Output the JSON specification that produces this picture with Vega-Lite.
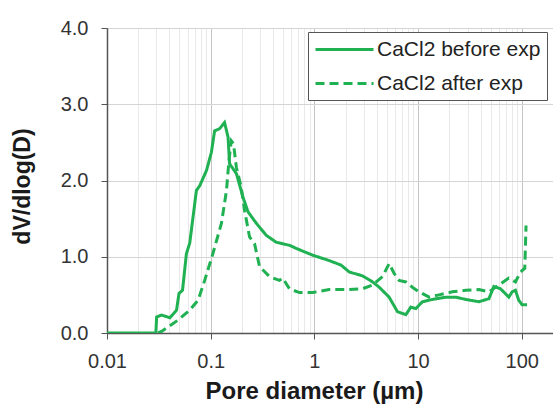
{
  "$schema": "https://vega.github.io/schema/vega-lite/v6.json",
  "width": 446,
  "height": 305,
  "autosize": {"type": "none"},
  "padding": {"left": 107, "top": 28, "right": 0, "bottom": 72},
  "background": "white",
  "config": {
    "font": "Liberation Sans",
    "view": {"stroke": "#8c8c8c", "strokeWidth": 1}
  },
  "data": {
    "values": [
      {"d": 0.01, "v": 0, "s": "CaCl2 before exp"},
      {"d": 0.0296, "v": 0, "s": "CaCl2 before exp"},
      {"d": 0.0301, "v": 0.21, "s": "CaCl2 before exp"},
      {"d": 0.0336, "v": 0.235, "s": "CaCl2 before exp"},
      {"d": 0.0404, "v": 0.2, "s": "CaCl2 before exp"},
      {"d": 0.0468, "v": 0.3, "s": "CaCl2 before exp"},
      {"d": 0.0495, "v": 0.52, "s": "CaCl2 before exp"},
      {"d": 0.0535, "v": 0.56, "s": "CaCl2 before exp"},
      {"d": 0.0583, "v": 1.04, "s": "CaCl2 before exp"},
      {"d": 0.0628, "v": 1.18, "s": "CaCl2 before exp"},
      {"d": 0.0728, "v": 1.87, "s": "CaCl2 before exp"},
      {"d": 0.0783, "v": 1.93, "s": "CaCl2 before exp"},
      {"d": 0.091, "v": 2.13, "s": "CaCl2 before exp"},
      {"d": 0.1016, "v": 2.37, "s": "CaCl2 before exp"},
      {"d": 0.109, "v": 2.65, "s": "CaCl2 before exp"},
      {"d": 0.122, "v": 2.68, "s": "CaCl2 before exp"},
      {"d": 0.136, "v": 2.76, "s": "CaCl2 before exp"},
      {"d": 0.147, "v": 2.57, "s": "CaCl2 before exp"},
      {"d": 0.152, "v": 2.22, "s": "CaCl2 before exp"},
      {"d": 0.177, "v": 2.09, "s": "CaCl2 before exp"},
      {"d": 0.205, "v": 1.78, "s": "CaCl2 before exp"},
      {"d": 0.229, "v": 1.59, "s": "CaCl2 before exp"},
      {"d": 0.275, "v": 1.44, "s": "CaCl2 before exp"},
      {"d": 0.344, "v": 1.28, "s": "CaCl2 before exp"},
      {"d": 0.429, "v": 1.19, "s": "CaCl2 before exp"},
      {"d": 0.575, "v": 1.15, "s": "CaCl2 before exp"},
      {"d": 0.667, "v": 1.11, "s": "CaCl2 before exp"},
      {"d": 0.964, "v": 1.02, "s": "CaCl2 before exp"},
      {"d": 1.39, "v": 0.95, "s": "CaCl2 before exp"},
      {"d": 1.81, "v": 0.89, "s": "CaCl2 before exp"},
      {"d": 2.17, "v": 0.8, "s": "CaCl2 before exp"},
      {"d": 2.91, "v": 0.75, "s": "CaCl2 before exp"},
      {"d": 3.64, "v": 0.67, "s": "CaCl2 before exp"},
      {"d": 4.22, "v": 0.6, "s": "CaCl2 before exp"},
      {"d": 5.26, "v": 0.47, "s": "CaCl2 before exp"},
      {"d": 6.32, "v": 0.28, "s": "CaCl2 before exp"},
      {"d": 7.62, "v": 0.24, "s": "CaCl2 before exp"},
      {"d": 8.51, "v": 0.34, "s": "CaCl2 before exp"},
      {"d": 9.51, "v": 0.32, "s": "CaCl2 before exp"},
      {"d": 11.0, "v": 0.41, "s": "CaCl2 before exp"},
      {"d": 13.7, "v": 0.44, "s": "CaCl2 before exp"},
      {"d": 18.5, "v": 0.47, "s": "CaCl2 before exp"},
      {"d": 23.1, "v": 0.47, "s": "CaCl2 before exp"},
      {"d": 28.8, "v": 0.44, "s": "CaCl2 before exp"},
      {"d": 38.6, "v": 0.41, "s": "CaCl2 before exp"},
      {"d": 48.2, "v": 0.45, "s": "CaCl2 before exp"},
      {"d": 53.8, "v": 0.61, "s": "CaCl2 before exp"},
      {"d": 62.4, "v": 0.58, "s": "CaCl2 before exp"},
      {"d": 75.0, "v": 0.47, "s": "CaCl2 before exp"},
      {"d": 80.7, "v": 0.54, "s": "CaCl2 before exp"},
      {"d": 86.9, "v": 0.56, "s": "CaCl2 before exp"},
      {"d": 93.5, "v": 0.43, "s": "CaCl2 before exp"},
      {"d": 100.7, "v": 0.37, "s": "CaCl2 before exp"},
      {"d": 112.5, "v": 0.37, "s": "CaCl2 before exp"},

      {"d": 0.031, "v": 0, "s": "CaCl2 after exp"},
      {"d": 0.0336, "v": 0.02, "s": "CaCl2 after exp"},
      {"d": 0.0389, "v": 0.08, "s": "CaCl2 after exp"},
      {"d": 0.0485, "v": 0.17, "s": "CaCl2 after exp"},
      {"d": 0.0628, "v": 0.3, "s": "CaCl2 after exp"},
      {"d": 0.0755, "v": 0.43, "s": "CaCl2 after exp"},
      {"d": 0.0875, "v": 0.69, "s": "CaCl2 after exp"},
      {"d": 0.105, "v": 1.04, "s": "CaCl2 after exp"},
      {"d": 0.127, "v": 1.44, "s": "CaCl2 after exp"},
      {"d": 0.142, "v": 1.87, "s": "CaCl2 after exp"},
      {"d": 0.15, "v": 2.26, "s": "CaCl2 after exp"},
      {"d": 0.158, "v": 2.52, "s": "CaCl2 after exp"},
      {"d": 0.166, "v": 2.48, "s": "CaCl2 after exp"},
      {"d": 0.177, "v": 2.17, "s": "CaCl2 after exp"},
      {"d": 0.197, "v": 1.91, "s": "CaCl2 after exp"},
      {"d": 0.212, "v": 1.61, "s": "CaCl2 after exp"},
      {"d": 0.237, "v": 1.26, "s": "CaCl2 after exp"},
      {"d": 0.265, "v": 1.17, "s": "CaCl2 after exp"},
      {"d": 0.296, "v": 0.87, "s": "CaCl2 after exp"},
      {"d": 0.369, "v": 0.74, "s": "CaCl2 after exp"},
      {"d": 0.46, "v": 0.69, "s": "CaCl2 after exp"},
      {"d": 0.495, "v": 0.72, "s": "CaCl2 after exp"},
      {"d": 0.575, "v": 0.58, "s": "CaCl2 after exp"},
      {"d": 0.718, "v": 0.53, "s": "CaCl2 after exp"},
      {"d": 0.964, "v": 0.53, "s": "CaCl2 after exp"},
      {"d": 1.39, "v": 0.57, "s": "CaCl2 after exp"},
      {"d": 2.02, "v": 0.57, "s": "CaCl2 after exp"},
      {"d": 2.91, "v": 0.58, "s": "CaCl2 after exp"},
      {"d": 3.64, "v": 0.63, "s": "CaCl2 after exp"},
      {"d": 4.54, "v": 0.74, "s": "CaCl2 after exp"},
      {"d": 5.26, "v": 0.91, "s": "CaCl2 after exp"},
      {"d": 5.88, "v": 0.78, "s": "CaCl2 after exp"},
      {"d": 6.56, "v": 0.69, "s": "CaCl2 after exp"},
      {"d": 7.62, "v": 0.67, "s": "CaCl2 after exp"},
      {"d": 8.81, "v": 0.6, "s": "CaCl2 after exp"},
      {"d": 10.2, "v": 0.54, "s": "CaCl2 after exp"},
      {"d": 12.8, "v": 0.47, "s": "CaCl2 after exp"},
      {"d": 15.9, "v": 0.5, "s": "CaCl2 after exp"},
      {"d": 21.4, "v": 0.54, "s": "CaCl2 after exp"},
      {"d": 28.8, "v": 0.56, "s": "CaCl2 after exp"},
      {"d": 38.6, "v": 0.57, "s": "CaCl2 after exp"},
      {"d": 48.2, "v": 0.54, "s": "CaCl2 after exp"},
      {"d": 60.1, "v": 0.63, "s": "CaCl2 after exp"},
      {"d": 75.0, "v": 0.72, "s": "CaCl2 after exp"},
      {"d": 86.9, "v": 0.67, "s": "CaCl2 after exp"},
      {"d": 97.2, "v": 0.8, "s": "CaCl2 after exp"},
      {"d": 106.9, "v": 0.85, "s": "CaCl2 after exp"},
      {"d": 108.6, "v": 1.17, "s": "CaCl2 after exp"},
      {"d": 109.9, "v": 1.41, "s": "CaCl2 after exp"}
    ]
  },
  "mark": {"type": "line", "color": "#1fb152", "strokeWidth": 3, "clip": true},
  "encoding": {
    "x": {
      "field": "d",
      "type": "quantitative",
      "scale": {"type": "log", "domain": [0.01, 200], "nice": false},
      "axis": {
        "values": [0.01, 0.02, 0.03, 0.04, 0.05, 0.06, 0.07, 0.08, 0.09, 0.1, 0.2, 0.3, 0.4, 0.5, 0.6, 0.7, 0.8, 0.9, 1, 2, 3, 4, 5, 6, 7, 8, 9, 10, 20, 30, 40, 50, 60, 70, 80, 90, 100, 200],
        "format": "~g",
        "labelExpr": "(datum.value==0.01||datum.value==0.1||datum.value==1||datum.value==10||datum.value==100) ? datum.label : ''",
        "labelOverlap": false,
        "labelFontSize": 20,
        "labelColor": "#333333",
        "labelPadding": 12,
        "labelFlush": false,
        "grid": true,
        "gridColor": {"condition": {"test": "datum.value==0.1||datum.value==1||datum.value==10||datum.value==100", "value": "#c4c4c4"}, "value": "#e9e9e9"},
        "gridWidth": 1,
        "tickOpacity": {"condition": {"test": "datum.value==0.01||datum.value==0.1||datum.value==1||datum.value==10||datum.value==100", "value": 1}, "value": 0},
        "tickColor": "#555555",
        "tickSize": 6,
        "domainColor": "#555555",
        "domainWidth": 1.5,
        "title": "Pore diameter (µm)",
        "titleFontSize": 24,
        "titleFontWeight": "bold",
        "titleColor": "#1a1a1a",
        "titleX": 207,
        "titleY": 46
      }
    },
    "y": {
      "field": "v",
      "type": "quantitative",
      "scale": {"domain": [0, 4], "nice": false},
      "axis": {
        "values": [0, 1, 2, 3, 4],
        "format": ".1f",
        "labelFontSize": 20,
        "labelColor": "#333333",
        "labelPadding": 13,
        "grid": true,
        "gridColor": "#d4d4d4",
        "tickColor": "#555555",
        "tickSize": 6,
        "domainColor": "#555555",
        "domainWidth": 1.5,
        "title": "dV/dlog(D)",
        "titleFontSize": 23,
        "titleFontWeight": "bold",
        "titleColor": "#1a1a1a",
        "titleX": -73,
        "titleY": 158
      }
    },
    "strokeDash": {
      "field": "s",
      "type": "nominal",
      "scale": {"domain": ["CaCl2 before exp", "CaCl2 after exp"], "range": [[1, 0], [9, 5]]},
      "legend": {
        "title": null,
        "orient": "none",
        "legendX": 201,
        "legendY": 4,
        "fillColor": "white",
        "strokeColor": "#555555",
        "padding": 6,
        "rowPadding": 12,
        "symbolType": "M-1,0H4.8",
        "symbolSize": 400,
        "symbolFillColor": "transparent",
        "symbolStrokeColor": "#1fb152",
        "symbolStrokeWidth": 3,
        "labelFontSize": 21,
        "labelColor": "#222222",
        "labelOffset": 40,
        "labelLimit": 300
      }
    }
  }
}
